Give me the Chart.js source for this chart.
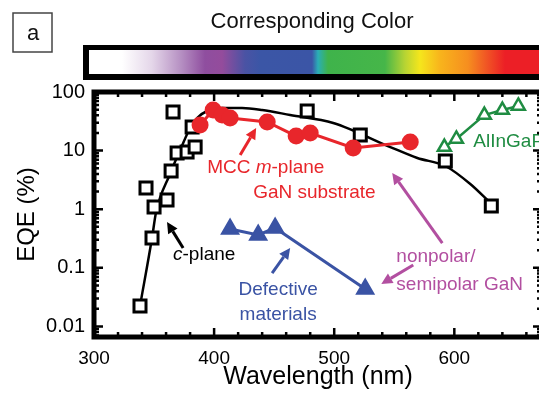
<!DOCTYPE html>
<html>
<head>
<meta charset="utf-8">
<script src="https://cdn.jsdelivr.net/npm/chart.js@4.4.0/dist/chart.umd.min.js"></script>
<style>
  html, body { margin: 0; padding: 0; background: #fff; overflow: hidden; }
  #wrap { width: 560px; height: 396px; }
</style>
</head>
<body>
<div id="wrap"><canvas id="eqe-chart" width="560" height="396"></canvas></div>
<script>
// c-plane GaN devices (open squares)
var cPlaneWl  = [338.3, 343.3, 348.3, 350.0, 360.8, 364.2, 365.8, 369.2, 377.5, 381.7, 384.2, 477.5, 521.7, 592.5, 630.8];
var cPlaneEqe = [0.0223, 2.30, 0.323, 1.09, 1.44, 4.49, 45.6, 9.1, 9.5, 25.3, 11.5, 47.4, 18.5, 6.65, 1.13];

// black guide curve through the c-plane data
var trendWl  = [338.3, 348.3, 351.7, 363.3, 372.5, 380.0, 385.8, 394.2, 406.7, 423.3, 440.0, 463.3, 499.2, 546.7, 569.2, 592.5, 613.3, 630.0];
var trendEqe = [0.0223, 0.323, 0.896, 3.99, 11.1, 24.3, 36.0, 47.4, 53.3, 53.3, 49.3, 40.5, 29.6, 11.5, 7.48, 5.46, 2.69, 1.28];

// MCC m-plane GaN substrate (red circles)
var mccWl  = [388.3, 399.2, 406.7, 413.3, 444.2, 468.3, 480.0, 515.8, 563.3];
var mccEqe = [27.3, 49.3, 40.5, 36.0, 30.8, 17.7, 20.0, 11.1, 14.0];

// defective materials (blue triangles)
var defectWl  = [413.3, 436.7, 450.8, 525.8];
var defectEqe = [0.459, 0.363, 0.478, 0.0435];

// AlInGaP (green open triangles)
var alingapWl  = [591.7, 601.7, 625.0, 640.0, 653.3];
var alingapEqe = [11.5, 15.8, 40.5, 49.3, 57.7];

// tick labels
var xLabels = [300, 400, 500, 600];
var yLabels = [0.01, 0.1, 1, 10, 100];

var FONT = '"Liberation Sans", Arial, Helvetica, sans-serif';
var RED = '#e8262b';
var BLUE = '#3a53a4';
var GREEN = '#1f8c42';
var MAGENTA = '#b24fa0';

// annotation arrows, in data units: [wlFrom, eqeFrom, wlTo, eqeTo, colour]
var arrows = [
  [421.7, 8.4, 435.0, 24.3, RED],
  [374.2, 0.218, 360.8, 0.605, '#000'],
  [448.3, 0.0815, 463.3, 0.218, BLUE],
  [590.0, 0.265, 548.3, 4.15, MAGENTA],
  [565.8, 0.112, 539.2, 0.053, MAGENTA]
];

// annotation texts: runs of [text, italic], position in data units, align, colour
var notes = [
  { runs: [['MCC ', false], ['m', true], ['-plane', false]], wl: 394.2, eqe: 5.05, align: 'left', color: RED },
  { runs: [['GaN substrate', false]], wl: 432.5, eqe: 1.89, align: 'left', color: RED },
  { runs: [['c', true], ['-plane', false]], wl: 365.8, eqe: 0.165, align: 'left', color: '#000' },
  { runs: [['Defective', false]], wl: 453.3, eqe: 0.0418, align: 'center', color: BLUE },
  { runs: [['materials', false]], wl: 453.3, eqe: 0.0157, align: 'center', color: BLUE },
  { runs: [['nonpolar/', false]], wl: 551.7, eqe: 0.153, align: 'left', color: MAGENTA },
  { runs: [['semipolar GaN', false]], wl: 551.7, eqe: 0.0508, align: 'left', color: MAGENTA },
  { runs: [['AlInGaP', false]], wl: 615.8, eqe: 14.0, align: 'left', color: GREEN }
];

function toPoints(xs, ys) {
  var pts = [];
  for (var i = 0; i < xs.length; i++) {
    pts.push({ x: xs[i], y: ys[i] });
  }
  return pts;
}

// Function to draw an arrow with a filled head
function drawArrow(ctx, x1, y1, x2, y2, color) {
  var ang = Math.atan2(y2 - y1, x2 - x1);
  var headLen = 11, headW = 5.5;
  var bx = x2 - Math.cos(ang) * headLen;
  var by = y2 - Math.sin(ang) * headLen;
  ctx.strokeStyle = color;
  ctx.fillStyle = color;
  ctx.lineWidth = 3;
  ctx.beginPath();
  ctx.moveTo(x1, y1);
  ctx.lineTo(bx, by);
  ctx.stroke();
  ctx.beginPath();
  ctx.moveTo(x2, y2);
  ctx.lineTo(bx + Math.sin(ang) * headW, by - Math.cos(ang) * headW);
  ctx.lineTo(bx - Math.sin(ang) * headW, by + Math.cos(ang) * headW);
  ctx.closePath();
  ctx.fill();
}

// Function to draw a line of text made of normal / italic runs
function drawRuns(ctx, runs, x, y, align, color) {
  var size = 19;
  var total = 0;
  for (var i = 0; i < runs.length; i++) {
    ctx.font = (runs[i][1] ? 'italic ' : '') + size + 'px ' + FONT;
    total += ctx.measureText(runs[i][0]).width;
  }
  var cx = align === 'center' ? x - total / 2 : x;
  ctx.fillStyle = color;
  ctx.textAlign = 'left';
  ctx.textBaseline = 'middle';
  for (var j = 0; j < runs.length; j++) {
    ctx.font = (runs[j][1] ? 'italic ' : '') + size + 'px ' + FONT;
    ctx.fillText(runs[j][0], cx, y);
    cx += ctx.measureText(runs[j][0]).width;
  }
}

// header: panel letter, title and colour bar
var headerPlugin = {
  id: 'header',
  beforeDraw: function(chart) {
    var ctx = chart.ctx;
    ctx.save();
    ctx.fillStyle = '#fff';
    ctx.fillRect(0, 0, chart.width, chart.height);

    ctx.strokeStyle = '#444';
    ctx.lineWidth = 1.5;
    ctx.strokeRect(13, 13, 39, 39);
    ctx.fillStyle = '#111';
    ctx.font = '22px ' + FONT;
    ctx.textAlign = 'center';
    ctx.textBaseline = 'middle';
    ctx.fillText('a', 33, 34);

    ctx.font = '22px ' + FONT;
    ctx.fillText('Corresponding Color', 312, 22);

    ctx.fillStyle = '#000';
    ctx.fillRect(83, 45, chart.width - 83, 35);
    var x0 = 89, x1 = chart.width;
    var grad = ctx.createLinearGradient(x0, 0, x1, 0);
    var stops = [
      [89, '#ffffff'], [122, '#ffffff'], [152, '#e4d6e9'], [182, '#b48dc1'],
      [205, '#8f4e9f'], [222, '#944c9c'], [245, '#4a53a4'], [260, '#3b56a6'],
      [312, '#3b55a6'], [318, '#2aaeb7'], [328, '#3fb34b'], [385, '#46b649'],
      [405, '#b7d433'], [420, '#f5e61c'], [440, '#f8b41c'], [468, '#f68e1f'],
      [485, '#f15a24'], [505, '#ec1f26'], [560, '#ec1f26']
    ];
    for (var i = 0; i < stops.length; i++) {
      grad.addColorStop((stops[i][0] - x0) / (x1 - x0), stops[i][1]);
    }
    ctx.fillStyle = grad;
    ctx.fillRect(x0, 50, x1 - x0, 24);
    ctx.restore();
  }
};

// frame, inward ticks and annotations
var framePlugin = {
  id: 'frame',
  afterDatasetsDraw: function(chart) {
    var ctx = chart.ctx;
    var xs = chart.scales.x, ys = chart.scales.y;
    ctx.save();
    for (var i = 0; i < arrows.length; i++) {
      var a = arrows[i];
      drawArrow(ctx, xs.getPixelForValue(a[0]), ys.getPixelForValue(a[1]),
        xs.getPixelForValue(a[2]), ys.getPixelForValue(a[3]), a[4]);
    }
    for (var j = 0; j < notes.length; j++) {
      var n = notes[j];
      drawRuns(ctx, n.runs, xs.getPixelForValue(n.wl), ys.getPixelForValue(n.eqe), n.align, n.color);
    }
    ctx.restore();
  },
  afterDraw: function(chart) {
    var ctx = chart.ctx;
    var area = chart.chartArea;
    var xs = chart.scales.x, ys = chart.scales.y;
    ctx.save();
    ctx.strokeStyle = '#000';
    ctx.lineWidth = 2.5;
    // x ticks every 20 nm
    for (var w = 300; w <= 673; w += 20) {
      var px = xs.getPixelForValue(w);
      var len = (w % 100 === 0) ? 9 : 5;
      ctx.beginPath();
      ctx.moveTo(px, area.bottom); ctx.lineTo(px, area.bottom - len);
      ctx.moveTo(px, area.top); ctx.lineTo(px, area.top + len);
      ctx.stroke();
    }
    // y ticks, log decades with minor ticks
    for (var d = -3; d <= 2; d++) {
      for (var m = 1; m <= 9; m++) {
        var v = m * Math.pow(10, d);
        if (v < ys.min || v > ys.max) continue;
        var py = ys.getPixelForValue(v);
        var l = (m === 1) ? 9 : 5;
        ctx.beginPath();
        ctx.moveTo(area.left, py); ctx.lineTo(area.left + l, py);
        ctx.moveTo(area.right, py); ctx.lineTo(area.right - l, py);
        ctx.stroke();
      }
    }
    ctx.lineWidth = 5;
    ctx.strokeRect(area.left, area.top, area.right - area.left, area.bottom - area.top);
    ctx.restore();
  }
};

var ctx = document.getElementById('eqe-chart').getContext('2d');
window.eqeChart = new Chart(ctx, {
  type: 'scatter',
  data: {
    datasets: [
      {
        label: 'MCC m-plane GaN substrate',
        data: toPoints(mccWl, mccEqe),
        showLine: true,
        borderColor: RED,
        backgroundColor: RED,
        borderWidth: 3,
        pointStyle: 'circle',
        pointRadius: 8.5,
        pointBorderWidth: 0
      },
      {
        label: 'c-plane',
        data: toPoints(cPlaneWl, cPlaneEqe),
        showLine: false,
        borderColor: '#000',
        backgroundColor: '#fff',
        pointStyle: 'rect',
        pointRadius: 8.5,
        pointBorderWidth: 3
      },
      {
        label: 'c-plane trend',
        data: toPoints(trendWl, trendEqe),
        showLine: true,
        borderColor: '#000',
        borderWidth: 2.5,
        pointRadius: 0,
        cubicInterpolationMode: 'monotone'
      },
      {
        label: 'Defective materials',
        data: toPoints(defectWl, defectEqe),
        showLine: true,
        borderColor: BLUE,
        backgroundColor: BLUE,
        borderWidth: 3,
        pointStyle: 'triangle',
        pointRadius: 9.5,
        pointBorderWidth: 2
      },
      {
        label: 'AlInGaP',
        data: toPoints(alingapWl, alingapEqe),
        showLine: true,
        borderColor: GREEN,
        backgroundColor: '#fff',
        borderWidth: 2.5,
        pointStyle: 'triangle',
        pointRadius: 7.5,
        pointBorderWidth: 2.5
      }
    ]
  },
  options: {
    responsive: false,
    animation: false,
    devicePixelRatio: 1,
    layout: { padding: { top: 92, right: 18, left: 0, bottom: 0 } },
    plugins: {
      legend: { display: false },
      tooltip: { enabled: false }
    },
    scales: {
      x: {
        type: 'linear',
        min: 300,
        max: 673,
        grid: { display: false, drawTicks: false },
        border: { display: false },
        ticks: { font: { family: FONT, size: 19 }, color: '#000', padding: 10 },
        afterBuildTicks: function(scale) {
          scale.ticks = xLabels.map(function(v) { return { value: v }; });
        },
        afterFit: function(scale) { scale.height = 59; },
        title: {
          display: true,
          text: 'Wavelength (nm)',
          color: '#000',
          font: { family: FONT, size: 25, lineHeight: 1 },
          padding: { top: 0, bottom: 6 }
        }
      },
      y: {
        type: 'logarithmic',
        min: 0.0066,
        max: 100,
        grid: { display: false, drawTicks: false },
        border: { display: false },
        ticks: {
          font: { family: FONT, size: 20 },
          color: '#000',
          padding: 9,
          callback: function(value) { return String(value); }
        },
        afterBuildTicks: function(scale) {
          scale.ticks = yLabels.map(function(v) { return { value: v }; });
        },
        afterFit: function(scale) { scale.width = 94; },
        title: {
          display: true,
          text: 'EQE (%)',
          color: '#000',
          font: { family: FONT, size: 24, lineHeight: 1 },
          padding: { top: 15, bottom: 0 }
        }
      }
    }
  },
  plugins: [headerPlugin, framePlugin]
});
</script>
</body>
</html>
